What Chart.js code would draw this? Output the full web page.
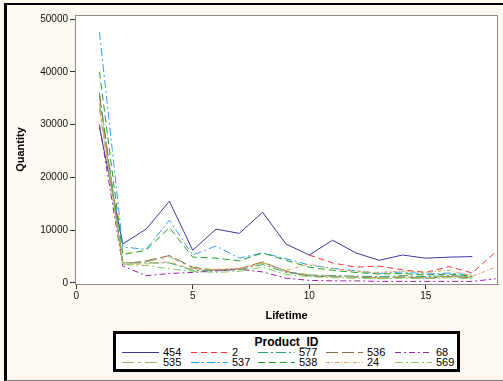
<!DOCTYPE html>
<html>
<head>
<meta charset="utf-8">
<script src="https://cdn.jsdelivr.net/npm/chart.js@4/dist/chart.umd.min.js"></script>
<style>
  body { margin: 0; background: #fdf9f0; font-family: "Liberation Sans", Arial, sans-serif; }
  #wrap { position: absolute; left: 0; top: 0; width: 503px; height: 381px; overflow: hidden; }
  #frame { position: absolute; left: 4px; top: 3px; width: 505px; height: 375px;
           border-left: 3px solid #000; border-top: 2px solid #000; border-bottom: 1px solid #777; }
  #c { position: absolute; left: 0; top: 0; }
  #legend { position: absolute; left: 113px; top: 331px; width: 341px; height: 35px;
            border: 3px solid #000; background: #fff; }
  #legend .ttl { position: absolute; left: 0; width: 100%; top: 1px; text-align: center;
                 font-weight: bold; font-size: 12px; }
  #legend .lbl { position: absolute; font-size: 11px; line-height: 11px; }
  #legend svg { position: absolute; left: 0; top: 0; }
</style>
</head>
<body>
<div id="wrap">
  <div id="frame"></div>
  <canvas id="c" width="503" height="381"></canvas>
  <div id="legend"></div>
</div>
<script>
var lifetime = [1, 2, 3, 4, 5, 6, 7, 8, 9, 10, 11, 12, 13, 14, 15, 16, 17, 18];
var productIds = ['454', '2', '577', '536', '68', '535', '537', '538', '24', '569'];

var q454 = [29500, 7400, 10200, 15500, 6200, 10200, 9400, 13400, 7400, 5300, 8100, 5700, 4300, 5300, 4700, 4900, 5000, null];
var q2   = [null, null, null, null, null, null, null, null, null, 5300, 3800, 3000, 3200, 2500, 2000, 3100, 1900, 5900];
var q577 = [36000, 3800, 3800, 3800, 2400, 2300, 2500, 3500, 2000, 1500, 1400, 1300, 1200, 1400, 1200, 1400, 1200, null];
var q536 = [35500, 3600, 4200, 5200, 3000, 2400, 2700, 4000, 2200, 1300, 1200, 1100, 900, 1100, 900, 1200, 1000, null];
var q68  = [30000, 3200, 1400, 1800, 2000, 2300, 2600, 2100, 900, 500, 400, 400, 300, 300, 300, 300, 300, 800];
var q535 = [34000, 3800, 4000, 5000, 2800, 2500, 2600, 3900, 2300, 1500, 1300, 1200, 1000, 1200, 1000, 1300, 1100, null];
var q537 = [47500, 6800, 6400, 11900, 5300, 7000, 4700, 5700, 4600, 3400, 2800, 2300, 1800, 2100, 1700, 1900, 1500, null];
var q538 = [40000, 5400, 6200, 10500, 4900, 4700, 4200, 5700, 4300, 3000, 2400, 2000, 1700, 1800, 1500, 1700, 1300, null];
var q24  = [33000, 3500, 3600, 4000, 2600, 2600, 2800, 3700, 2400, 3600, 2700, 2200, 2000, 2300, 2000, 2400, 1300, 3000];
var q569 = [33000, 3500, 3300, 2700, 2200, 2000, 2200, 3000, 1600, 1200, 1000, 900, 800, 900, 800, 1000, 800, null];

var yTicks = [0, 10000, 20000, 30000, 40000, 50000];
var xTicks = [0, 5, 10, 15];

var series = [q454, q2, q577, q536, q68, q535, q537, q538, q24, q569];
var colors = ['#3a3aa0', '#ff3030', '#30a070', '#8b6b4a', '#a020b0',
              '#a8a860', '#30a0ff', '#20a020', '#e8a050', '#88cc66'];
var dashes = [[], [6, 4], [10, 3, 2, 3], [12, 4], [6, 3, 2, 3],
              [12, 4, 3, 4], [8, 3, 2, 3], [7, 4], [4, 2, 1, 2], [8, 3, 2, 3]];

var datasets = series.map(function(vals, i) {
    var pts = [];
    for (var k = 0; k < lifetime.length; k++) {
        if (vals[k] !== null) pts.push({x: lifetime[k], y: vals[k]});
    }
    return {
        label: productIds[i],
        data: pts,
        borderColor: colors[i],
        backgroundColor: colors[i],
        borderDash: dashes[i],
        borderWidth: 1,
        pointRadius: 0,
        tension: 0,
        fill: false,
        order: 10 - i
    };
});

var plotBg = {
    id: 'plotBg',
    beforeDraw: function(chart) {
        var a = chart.chartArea, ctx = chart.ctx;
        ctx.save();
        ctx.fillStyle = '#ffffff';
        ctx.fillRect(a.left, a.top, a.right - a.left, a.bottom - a.top);
        ctx.restore();
    },
    afterDraw: function(chart) {
        var a = chart.chartArea, ctx = chart.ctx;
        ctx.save();
        ctx.strokeStyle = '#8a8a8a';
        ctx.lineWidth = 1;
        ctx.strokeRect(a.left + 0.5, a.top + 0.5, a.right - a.left - 1, a.bottom - a.top);
        ctx.restore();
    }
};

var tickFont = {family: '"Liberation Sans", Arial, sans-serif', size: 10};
var titleFont = {family: '"Liberation Sans", Arial, sans-serif', size: 11, weight: 'bold'};
function plain(v) { return String(v); }

new Chart(document.getElementById('c'), {
    type: 'line',
    data: {datasets: datasets},
    plugins: [plotBg],
    options: {
        responsive: false,
        animation: false,
        devicePixelRatio: 1,
        layout: {padding: {left: 0, top: 15, right: 5, bottom: 0}},
        plugins: {legend: {display: false}, tooltip: {enabled: false}},
        scales: {
            x: {
                type: 'linear',
                min: -0.05,
                max: 18.1,
                afterBuildTicks: function(s) { s.ticks = xTicks.map(function(v) { return {value: v}; }); },
                afterFit: function(s) { s.height = 97; },
                ticks: {color: '#111', font: tickFont, padding: 1, maxRotation: 0, callback: plain},
                grid: {drawOnChartArea: false, tickLength: 5, color: '#333', tickColor: '#333'},
                border: {color: '#8a8a8a'},
                title: {display: true, text: 'Lifetime', color: '#000', font: titleFont,
                        padding: {top: 0, bottom: 58}}
            },
            y: {
                min: -190,
                max: 50760,
                afterBuildTicks: function(s) { s.ticks = yTicks.map(function(v) { return {value: v}; }); },
                afterFit: function(s) { s.width = 75; },
                ticks: {color: '#111', font: tickFont, padding: 2, callback: plain},
                grid: {drawOnChartArea: false, tickLength: 5, color: '#333', tickColor: '#333'},
                border: {color: '#8a8a8a'},
                title: {display: true, text: 'Quantity', color: '#000', font: titleFont,
                        padding: {top: 14, bottom: 0}}
            }
        }
    }
});

// legend in SAS style: two rows of five entries
var legend = document.getElementById('legend');
var ttl = document.createElement('div');
ttl.className = 'ttl';
ttl.textContent = 'Product_ID';
legend.appendChild(ttl);
var svgNS = 'http://www.w3.org/2000/svg';
var svg = document.createElementNS(svgNS, 'svg');
svg.setAttribute('width', '341');
svg.setAttribute('height', '35');
legend.appendChild(svg);
var colText = [47, 116, 183, 251, 320];
var rowY = [18, 28];
productIds.forEach(function(id, i) {
    var col = i % 5, row = Math.floor(i / 5);
    var ln = document.createElementNS(svgNS, 'line');
    ln.setAttribute('x1', colText[col] - 41);
    ln.setAttribute('x2', colText[col] - 4);
    ln.setAttribute('y1', rowY[row] + 0.5);
    ln.setAttribute('y2', rowY[row] + 0.5);
    ln.setAttribute('stroke', colors[i]);
    ln.setAttribute('stroke-width', '1');
    if (dashes[i].length) ln.setAttribute('stroke-dasharray', dashes[i].join(' '));
    svg.appendChild(ln);
    var t = document.createElement('div');
    t.className = 'lbl';
    t.textContent = id;
    t.style.left = colText[col] + 'px';
    t.style.top = (rowY[row] - 5) + 'px';
    legend.appendChild(t);
});
</script>
</body>
</html>
